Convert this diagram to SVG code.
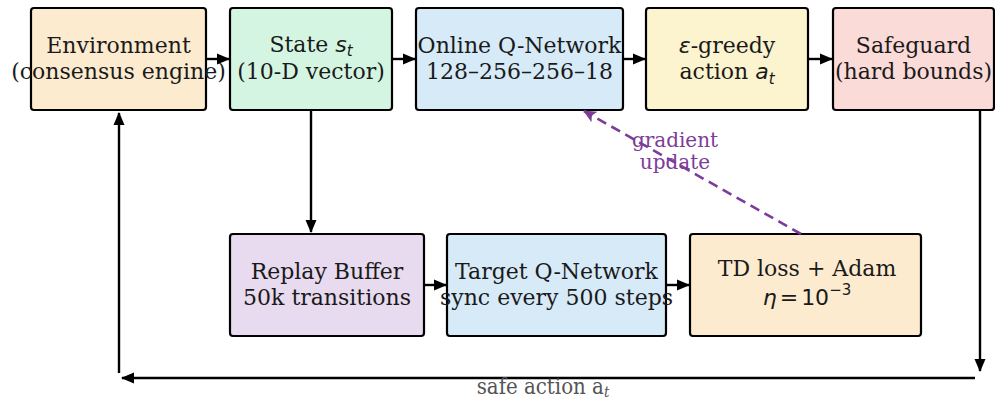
<svg xmlns="http://www.w3.org/2000/svg" width="995" height="402" viewBox="0 0 995 402">
<defs>
<marker id="ah" markerWidth="14" markerHeight="14" refX="12" refY="7" orient="auto" markerUnits="userSpaceOnUse">
<path d="M0,1.5 L13,7 L0,12.5 z" fill="#000"/>
</marker>
<marker id="ahp" markerWidth="16" markerHeight="16" refX="12" refY="8" orient="auto" markerUnits="userSpaceOnUse">
<path d="M0,2 L13,8 L0,14 L3,8 z" fill="#7d3c98"/>
</marker>
</defs>
<style>
.box{stroke:#000;stroke-width:2.2}
.t{font-family:"DejaVu Serif","Liberation Serif",serif;font-size:22px;fill:#1a1a1a;text-anchor:middle}
.m{font-family:"DejaVu Sans","Liberation Sans",sans-serif;font-style:italic}
.mr{font-family:"DejaVu Sans","Liberation Sans",sans-serif}
.c{stroke:#000;stroke-width:2.4;fill:none}
</style>
<rect width="995" height="402" fill="#fff"/>
<g id="environment"><rect class="box" x="31" y="8" width="175" height="102" rx="3" fill="#fdebd0"/><text class="t" x="118.5" y="53">Environment</text><text class="t" x="118.5" y="79">(consensus engine)</text></g>
<g id="state"><rect class="box" x="230" y="8" width="162" height="102" rx="3" fill="#d5f5e3"/><text class="t" x="311" y="52">State <tspan class="m">s</tspan><tspan class="m" font-size="15" dy="4">t</tspan></text><text class="t" x="311" y="79">(10-D vector)</text></g>
<g id="online"><rect class="box" x="416" y="8" width="207" height="102" rx="3" fill="#d6eaf8"/><text class="t" x="519.5" y="53">Online Q-Network</text><text class="t" x="519.5" y="79">128–256–256–18</text></g>
<g id="egreedy"><rect class="box" x="646" y="8" width="162" height="102" rx="3" fill="#fcf3cf"/><text class="t" x="727" y="53"><tspan class="m">ε</tspan>-greedy</text><text class="t" x="727" y="79">action <tspan class="m">a</tspan><tspan class="m" font-size="15" dy="5">t</tspan></text></g>
<g id="safeguard"><rect class="box" x="833" y="8" width="161" height="102" rx="3" fill="#fadbd8"/><text class="t" x="913.5" y="53">Safeguard</text><text class="t" x="913.5" y="79">(hard bounds)</text></g>
<g id="replay"><rect class="box" x="230" y="234" width="194" height="102" rx="3" fill="#e8daef"/><text class="t" x="327" y="279">Replay Buffer</text><text class="t" x="327" y="305">50k transitions</text></g>
<g id="target"><rect class="box" x="447" y="234" width="219" height="102" rx="3" fill="#d6eaf8"/><text class="t" x="556.5" y="279">Target Q-Network</text><text class="t" x="556.5" y="305">sync every 500 steps</text></g>
<g id="tdloss"><rect class="box" x="690" y="234" width="231" height="102" rx="3" fill="#fdebd0"/><text class="t" x="807" y="276">TD loss + Adam</text><text class="t" x="807" y="305"><tspan class="m">η</tspan><tspan class="mr" dx="3">=</tspan><tspan class="mr" dx="3">10</tspan><tspan class="mr" font-size="15" dy="-10">−3</tspan></text></g>
<g id="connectors">
<line class="c" x1="206" y1="59" x2="229" y2="59" marker-end="url(#ah)"/>
<line class="c" x1="392" y1="59" x2="415" y2="59" marker-end="url(#ah)"/>
<line class="c" x1="623" y1="59" x2="645" y2="59" marker-end="url(#ah)"/>
<line class="c" x1="808" y1="59" x2="832" y2="59" marker-end="url(#ah)"/>
<line class="c" x1="424" y1="285" x2="446" y2="285" marker-end="url(#ah)"/>
<line class="c" x1="666" y1="285" x2="689" y2="285" marker-end="url(#ah)"/>
<line class="c" x1="311" y1="110" x2="311" y2="232" marker-end="url(#ah)"/>
<line class="c" x1="980" y1="110" x2="980" y2="371" marker-end="url(#ah)"/>
<line class="c" x1="975" y1="378" x2="122" y2="378" marker-end="url(#ah)"/>
<line class="c" x1="119" y1="373" x2="119" y2="113" marker-end="url(#ah)"/>
<line x1="801" y1="234" x2="584" y2="111" stroke="#7d3c98" stroke-width="2.6" stroke-dasharray="10,6" marker-end="url(#ahp)"/>
<text x="675" y="147" font-family="'DejaVu Serif','Liberation Serif',serif" font-size="20" fill="#7d3c98" text-anchor="middle">gradient</text>
<text x="675" y="169" font-family="'DejaVu Serif','Liberation Serif',serif" font-size="20" fill="#7d3c98" text-anchor="middle">update</text>
<text x="543" y="394" font-family="'DejaVu Serif Condensed','DejaVu Serif','Liberation Serif',serif" font-stretch="condensed" font-size="22" fill="#555" text-anchor="middle">safe action a<tspan font-style="italic" font-size="15" dy="3">t</tspan></text>
</g>
</svg>
